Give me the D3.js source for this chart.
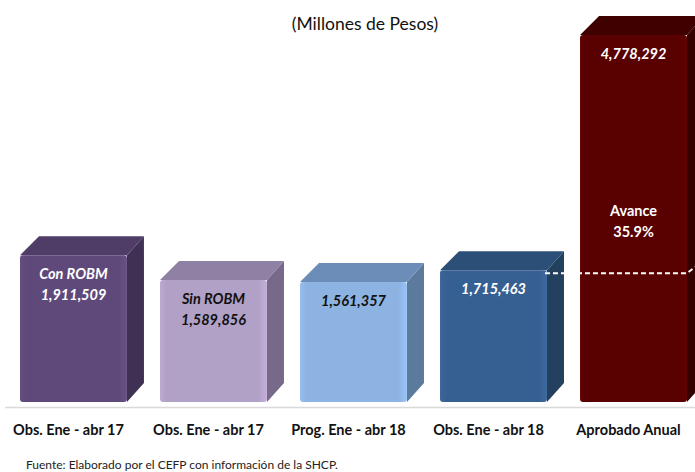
<!DOCTYPE html>
<html>
<head>
<meta charset="utf-8">
<script src="https://cdn.jsdelivr.net/npm/d3@7"></script>
<style>
  html, body { margin: 0; padding: 0; background: #fff; }
  svg { display: block; }
  text { font-family: Lato, "Open Sans", sans-serif; }
</style>
</head>
<body>
<svg id="chart" width="695" height="472"></svg>
<script>
// ---- data ----
const categories = ["Obs. Ene - abr 17", "Obs. Ene - abr 17", "Prog. Ene - abr 18", "Obs. Ene - abr 18", "Aprobado Anual"];
const values = [1911509, 1589856, 1561357, 1715463, 4778292];
const subLabels = ["Con ROBM", "Sin ROBM", "", "", ""];
const avanceLabel = ["Avance", "35.9%"];
const title = "(Millones de Pesos)";
const source = "Fuente:  Elaborado por el CEFP con información de la SHCP.";

// ---- styles ----
const fronts = ["#5f497a", "#b2a1c7", "#8db3e2", "#376092", "#590000"];
const tops   = ["#4f3d67", "#8f81a3", "#6b8db7", "#2c4f78", "#3f0000"];
const sides  = ["#3f3153", "#76698a", "#5b7a9c", "#23405f", "#350000"];
const labelColors = ["#ffffff", "#111111", "#111111", "#ffffff", "#ffffff"];

const svg = d3.select("#chart");
const W = 695, H = 472;
const base = 402;
const dx = 17, dy = 19;

const x = d3.scaleBand()
  .domain(d3.range(values.length))
  .range([20, 687])
  .paddingInner(0.236)
  .paddingOuter(0);
const y = d3.scaleLinear()
  .domain([0, d3.max(values)])
  .range([base, 35]);
const bw = x.bandwidth();
const fmt = d3.format(",");

// baseline
svg.append("line")
  .attr("x1", 5).attr("x2", W)
  .attr("y1", 407.5).attr("y2", 407.5)
  .attr("stroke", "#d9d9d9").attr("stroke-width", 1.5);

// gradient for front faces (subtle bevel)
const defs = svg.append("defs");
fronts.forEach((c, i) => {
  const g = defs.append("linearGradient").attr("id", "fg" + i)
    .attr("x1", 0).attr("x2", 1).attr("y1", 0).attr("y2", 0);
  g.append("stop").attr("offset", "0%").attr("stop-color", d3.color(c).brighter(0.15));
  g.append("stop").attr("offset", "6%").attr("stop-color", c);
  g.append("stop").attr("offset", "92%").attr("stop-color", c);
  g.append("stop").attr("offset", "100%").attr("stop-color", d3.color(c).brighter(0.25));
});

const bars = svg.selectAll("g.bar").data(values).join("g").attr("class", "bar");

// side face
bars.append("path")
  .attr("d", (d, i) => {
    const x0 = x(i) + bw, yt = y(d);
    return `M${x0},${yt} L${x0 + dx},${yt - dy} L${x0 + dx},${base - dy} L${x0},${base} Z`;
  })
  .attr("fill", (d, i) => sides[i]);

// top face
bars.append("path")
  .attr("d", (d, i) => {
    const x0 = x(i), yt = y(d);
    return `M${x0},${yt} L${x0 + dx + 2},${yt - dy} L${x0 + bw + dx},${yt - dy} L${x0 + bw},${yt} Z`;
  })
  .attr("fill", (d, i) => tops[i]);

// front face
bars.append("rect")
  .attr("x", (d, i) => x(i))
  .attr("y", d => y(d))
  .attr("width", bw)
  .attr("height", d => base - y(d))
  .attr("rx", 3)
  .attr("fill", (d, i) => `url(#fg${i})`);

// dashed "avance" line
const yA = y(values[3]) + 3;
svg.append("path")
  .attr("d", `M${x(3) + bw - 2},${yA} L${x(4) + bw},${yA} L${x(4) + bw + dx},${yA - dy * 0.7}`)
  .attr("fill", "none")
  .attr("stroke", "#ffffff")
  .attr("stroke-width", 1.8)
  .attr("stroke-dasharray", "5,3");

// value labels
bars.each(function (d, i) {
  const g = d3.select(this);
  const cx = x(i) + bw / 2;
  const yt = y(d);
  const lines = subLabels[i] ? [subLabels[i], fmt(d)] : [fmt(d)];
  lines.forEach((t, k) => {
    g.append("text")
      .attr("x", cx).attr("y", yt + 24 + k * 21)
      .attr("text-anchor", "middle")
      .attr("font-size", 14.5).attr("font-weight", "bold").attr("font-style", "italic")
      .attr("fill", labelColors[i])
      .text(t);
  });
});

// avance label
const cx5 = x(4) + bw / 2;
avanceLabel.forEach((t, k) => {
  svg.append("text")
    .attr("x", cx5).attr("y", 216 + k * 21)
    .attr("text-anchor", "middle")
    .attr("font-size", 14.5).attr("font-weight", "bold")
    .attr("fill", "#ffffff")
    .text(t);
});

// category labels
svg.selectAll("text.cat").data(categories).join("text")
  .attr("class", "cat")
  .attr("x", (d, i) => x(i) + bw / 2 - 5)
  .attr("y", 435)
  .attr("text-anchor", "middle")
  .attr("font-size", 14.5).attr("font-weight", "bold")
  .attr("fill", "#111111")
  .text(d => d);

// title
svg.append("text")
  .attr("x", 365).attr("y", 30)
  .attr("text-anchor", "middle")
  .attr("font-size", 17.5)
  .attr("fill", "#111111")
  .text(title);

// source
svg.append("text")
  .attr("x", 26).attr("y", 469)
  .attr("font-size", 12)
  .attr("fill", "#222222")
  .text(source);
</script>
</body>
</html>
